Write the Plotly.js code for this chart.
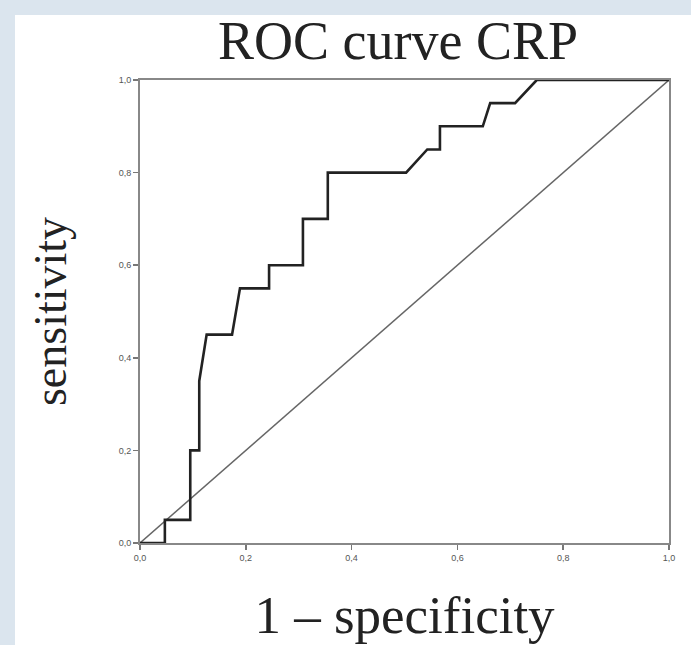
<!DOCTYPE html>
<html>
<head>
<meta charset="utf-8">
<script src="https://cdn.plot.ly/plotly-3.0.1.min.js"></script>
<style>
  html, body { margin: 0; padding: 0; background: #dbe5ee; width: 691px; height: 645px; overflow: hidden; }
  #chart { position: absolute; left: 0; top: 0; width: 691px; height: 645px; }
</style>
</head>
<body>
<div id="chart"></div>
<script>
// ROC curve points (1 - specificity, sensitivity)
const fpr = [0, 0.047, 0.047, 0.095, 0.095, 0.112, 0.112, 0.126, 0.174, 0.189, 0.244, 0.244, 0.308, 0.308, 0.355, 0.355, 0.503, 0.543, 0.567, 0.567, 0.648, 0.662, 0.709, 0.75, 1.0];
const sens = [0, 0, 0.05, 0.05, 0.2, 0.2, 0.35, 0.45, 0.45, 0.55, 0.55, 0.6, 0.6, 0.7, 0.7, 0.8, 0.8, 0.85, 0.85, 0.9, 0.9, 0.95, 0.95, 1.0, 1.0];
// reference diagonal
const diagX = [0, 1];
const diagY = [0, 1];
// tick labels
const tickVals = [0, 0.2, 0.4, 0.6, 0.8, 1.0];
const tickLabels = ["0,0", "0,2", "0,4", "0,6", "0,8", "1,0"];

const W = 691, H = 645;
const M = { l: 140, r: 22, t: 80, b: 102 };
const pw = W - M.l - M.r, ph = H - M.t - M.b;
// white panel inside the light blue frame (frame 15px on left and top)
const panel = {
  type: 'rect', xref: 'paper', yref: 'paper', layer: 'below',
  x0: (15 - M.l) / pw, x1: (W - M.l) / pw,
  y0: -(M.b) / ph, y1: (H - M.b - 15) / ph,
  fillcolor: '#ffffff', line: { width: 0 }
};

const traces = [
  { x: diagX, y: diagY, type: 'scatter', mode: 'lines', line: { color: '#666666', width: 1.5 }, hoverinfo: 'skip' },
  { x: fpr, y: sens, type: 'scatter', mode: 'lines', line: { color: '#222222', width: 2.6 } }
];

const axisCommon = {
  range: [0, 1],
  tickvals: tickVals,
  ticktext: tickLabels,
  ticks: 'outside',
  ticklen: 5,
  tickwidth: 1.5,
  tickcolor: '#777777',
  showline: true,
  linecolor: '#888888',
  linewidth: 2,
  mirror: true,
  showgrid: false,
  zeroline: false,
  tickfont: { family: 'Liberation Sans, Arial, sans-serif', size: 9, color: '#555555' }
};

const layout = {
  width: W,
  height: H,
  margin: M,
  paper_bgcolor: '#dbe5ee',
  plot_bgcolor: '#ffffff',
  showlegend: false,
  shapes: [panel],
  title: {
    text: 'ROC curve CRP',
    font: { family: 'Liberation Serif, Times New Roman, serif', size: 54, color: '#222222' },
    x: 398 / W, xanchor: 'center',
    y: 1 - 40 / H, yref: 'container', yanchor: 'middle'
  },
  xaxis: Object.assign({}, axisCommon, {
    title: { text: '1 \u2013 specificity', font: { family: 'Liberation Serif, Times New Roman, serif', size: 53, color: '#222222' }, standoff: 34 }
  }),
  yaxis: Object.assign({}, axisCommon, {
    title: { text: 'sensitivity', font: { family: 'Liberation Serif, Times New Roman, serif', size: 46, color: '#222222' }, standoff: 38 }
  })
};

Plotly.newPlot('chart', traces, layout, { displayModeBar: false, staticPlot: true });
</script>
</body>
</html>
